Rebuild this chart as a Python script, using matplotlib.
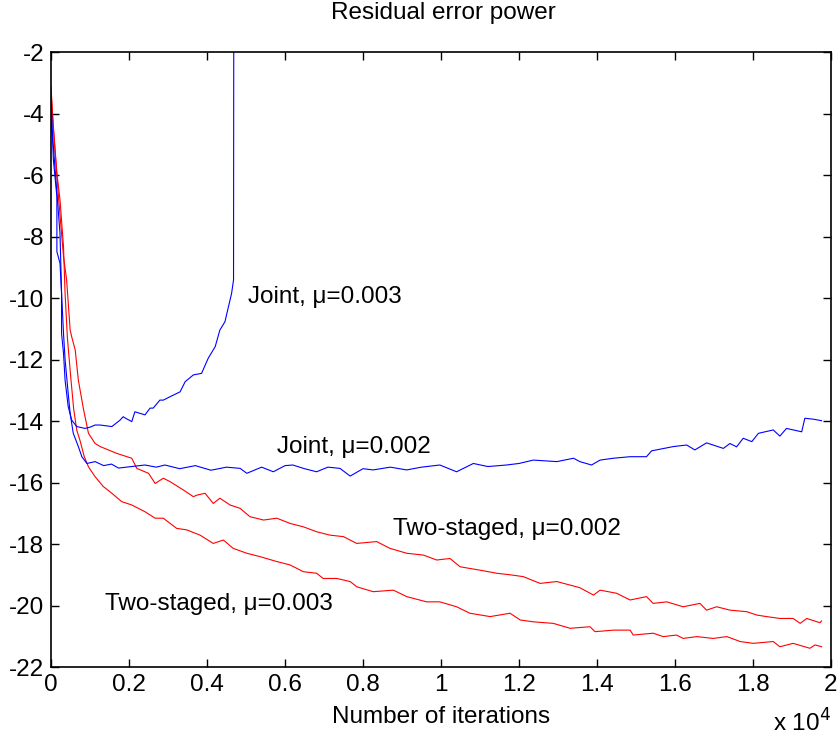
import matplotlib
matplotlib.use("Agg")
import matplotlib.pyplot as plt

plt.rcParams['font.family'] = ['Liberation Sans', 'DejaVu Sans']
plt.rcParams['axes.unicode_minus'] = False

# values (x in units of 10^4 iterations)
joint3_x = [0, 0.002, 0.006, 0.015, 0.015, 0.023, 0.027, 0.027, 0.032, 0.036,
            0.044, 0.053, 0.066, 0.087, 0.1, 0.113, 0.126, 0.156, 0.177, 0.185,
            0.19, 0.207, 0.215, 0.228, 0.241, 0.254, 0.262, 0.279, 0.288, 0.305,
            0.331, 0.344, 0.365, 0.386, 0.403, 0.421, 0.433, 0.446, 0.455, 0.463,
            0.468, 0.469]
joint3_y = [-3.7, -4.1, -5.51, -6.70, -8.49, -8.87, -9.85, -11.15, -11.80, -12.67,
            -13.53, -13.97, -14.18, -14.24, -14.2, -14.13, -14.13, -14.18, -13.97, -13.86,
            -13.9, -14.02, -13.70, -13.75, -13.8, -13.58, -13.58, -13.32, -13.32, -13.21,
            -13.05, -12.72, -12.50, -12.45, -11.96, -11.58, -11.04, -10.77, -10.28, -9.85,
            -9.41, 5]

joint2_x = [0, 0.006, 0.023, 0.027, 0.032, 0.036, 0.044, 0.049, 0.057, 0.07,
            0.079, 0.092, 0.113, 0.135, 0.155, 0.173, 0.2, 0.241, 0.27, 0.292,
            0.33, 0.37, 0.41, 0.45, 0.485, 0.502, 0.54, 0.57, 0.6, 0.62,
            0.65, 0.681, 0.71, 0.741, 0.767, 0.8, 0.826, 0.87, 0.912, 0.95,
            0.997, 1.04, 1.083, 1.12, 1.168, 1.2, 1.237, 1.297, 1.34, 1.356,
            1.386, 1.408, 1.442, 1.485, 1.527, 1.54, 1.596, 1.63, 1.651, 1.681,
            1.724, 1.741, 1.758, 1.775, 1.797, 1.814, 1.852, 1.869, 1.886, 1.925,
            1.933, 1.955, 1.976]
joint2_y = [-4.2, -5.08, -7.9, -9.84, -11.15, -12.0, -13.1, -13.75, -14.4, -14.83,
            -15.16, -15.38, -15.32, -15.45, -15.4, -15.53, -15.49, -15.43, -15.5, -15.43,
            -15.55, -15.45, -15.6, -15.5, -15.54, -15.7, -15.5, -15.65, -15.45, -15.43,
            -15.55, -15.65, -15.5, -15.54, -15.79, -15.55, -15.59, -15.5, -15.59, -15.5,
            -15.43, -15.65, -15.38, -15.48, -15.43, -15.38, -15.27, -15.32, -15.21, -15.32,
            -15.43, -15.27, -15.21, -15.16, -15.16, -14.97, -14.83, -14.78, -14.94, -14.71,
            -14.89, -14.73, -14.84, -14.56, -14.67, -14.40, -14.29, -14.49, -14.24, -14.35,
            -13.91, -13.94, -13.99]

staged2_x = [0, 0.005, 0.01, 0.019, 0.032, 0.04, 0.049, 0.053, 0.062, 0.07,
             0.083, 0.096, 0.113, 0.126, 0.147, 0.168, 0.207, 0.22, 0.25, 0.267,
             0.288, 0.305, 0.339, 0.365, 0.374, 0.395, 0.416, 0.433, 0.459, 0.485,
             0.51, 0.545, 0.579, 0.613, 0.647, 0.681, 0.715, 0.75, 0.784, 0.835,
             0.869, 0.912, 0.955, 0.989, 1.023, 1.049, 1.10, 1.143, 1.177, 1.211,
             1.254, 1.297, 1.356, 1.391, 1.408, 1.45, 1.485, 1.527, 1.544, 1.579,
             1.621, 1.664, 1.681, 1.707, 1.741, 1.784, 1.81, 1.835, 1.869, 1.903,
             1.921, 1.938, 1.972, 1.976]
staged2_y = [-3.13, -4.3, -5.19, -6.7, -8.66, -9.41, -11.04, -11.26, -11.69, -12.67,
             -13.6, -14.4, -14.73, -14.83, -14.94, -15.05, -15.21, -15.54, -15.70, -16.03,
             -15.86, -15.97, -16.24, -16.46, -16.41, -16.35, -16.68, -16.51, -16.73, -16.84,
             -17.11, -17.22, -17.16, -17.33, -17.44, -17.60, -17.71, -17.76, -17.98, -17.92,
             -18.14, -18.30, -18.36, -18.52, -18.47, -18.74, -18.85, -18.95, -19.0, -19.06,
             -19.28, -19.22, -19.42, -19.66, -19.50, -19.60, -19.82, -19.71, -19.93, -19.88,
             -20.04, -19.93, -20.15, -20.04, -20.15, -20.20, -20.31, -20.36, -20.42, -20.42,
             -20.58, -20.42, -20.56, -20.5]

staged3_x = [0, 0.006, 0.015, 0.023, 0.032, 0.036, 0.042, 0.05, 0.058, 0.066,
             0.074, 0.085, 0.096, 0.113, 0.134, 0.156, 0.181, 0.207, 0.241, 0.267,
             0.288, 0.322, 0.348, 0.382, 0.416, 0.442, 0.467, 0.502, 0.536, 0.579,
             0.613, 0.647, 0.681, 0.698, 0.733, 0.767, 0.784, 0.826, 0.878, 0.912,
             0.963, 0.997, 1.04, 1.074, 1.126, 1.177, 1.203, 1.237, 1.288, 1.331,
             1.382, 1.395, 1.442, 1.485, 1.493, 1.544, 1.57, 1.604, 1.621, 1.656,
             1.698, 1.733, 1.767, 1.801, 1.852, 1.869, 1.903, 1.946, 1.959, 1.976]
staged3_y = [-3.3, -4.43, -5.93, -6.81, -8.33, -9.85, -11.3, -12.5, -13.6, -14.3,
             -14.62, -15.15, -15.49, -15.81, -16.13, -16.35, -16.62, -16.73, -16.95, -17.16,
             -17.16, -17.49, -17.54, -17.71, -17.98, -17.87, -18.14, -18.30, -18.41, -18.57,
             -18.68, -18.90, -18.95, -19.12, -19.12, -19.22, -19.39, -19.55, -19.50, -19.71,
             -19.88, -19.88, -20.04, -20.25, -20.36, -20.25, -20.47, -20.53, -20.58, -20.74,
             -20.69, -20.85, -20.80, -20.80, -20.96, -20.90, -21.01, -20.96, -21.07, -21.01,
             -21.07, -21.01, -21.17, -21.23, -21.17, -21.34, -21.23, -21.39, -21.28, -21.34]

xticks = [0, 0.2, 0.4, 0.6, 0.8, 1, 1.2, 1.4, 1.6, 1.8, 2]
xtick_labels = ['0', '0.2', '0.4', '0.6', '0.8', '1', '1.2', '1.4', '1.6', '1.8', '2']
yticks = list(range(-22, -1, 2))

labels = {
    'Joint, μ=0.003': (0.505, -9.97),
    'Joint, μ=0.002': (0.58, -14.83),
    'Two-staged, μ=0.002': (0.877, -17.5),
    'Two-staged, μ=0.003': (0.138, -19.95),
}

fs = 17.5

fig = plt.figure(figsize=(8.38, 7.4), dpi=100)
ax = fig.add_axes([0.0609, 0.0986, 0.9307, 0.8311])

ax.plot(staged2_x, staged2_y, color='red', lw=0.8)
ax.plot(staged3_x, staged3_y, color='red', lw=0.8)
ax.plot(joint3_x, joint3_y, color='blue', lw=0.8)
ax.plot(joint2_x, joint2_y, color='blue', lw=0.8)

for txt, (x, y) in labels.items():
    ax.text(x, y, txt, fontsize=fs, ha='left', va='center')

ax.set_xlim(0, 2)
ax.set_ylim(-22, -2)
ax.set_xticks(xticks)
ax.set_xticklabels(xtick_labels)
ax.set_yticks(yticks)
ax.tick_params(direction='in', top=True, right=True, length=6, width=1,
               labelsize=fs, pad=5)
for s in ax.spines.values():
    s.set_linewidth(1.2)

ax.set_xlabel('Number of iterations', fontsize=fs, labelpad=7)
fig.text(0.5286, 0.983, 'Residual error power', fontsize=fs, ha='center', va='center')
fig.text(0.992, 0.004, 'x 10$^4$', fontsize=fs, ha='right', va='bottom')

fig.savefig('out.png', dpi=100)
